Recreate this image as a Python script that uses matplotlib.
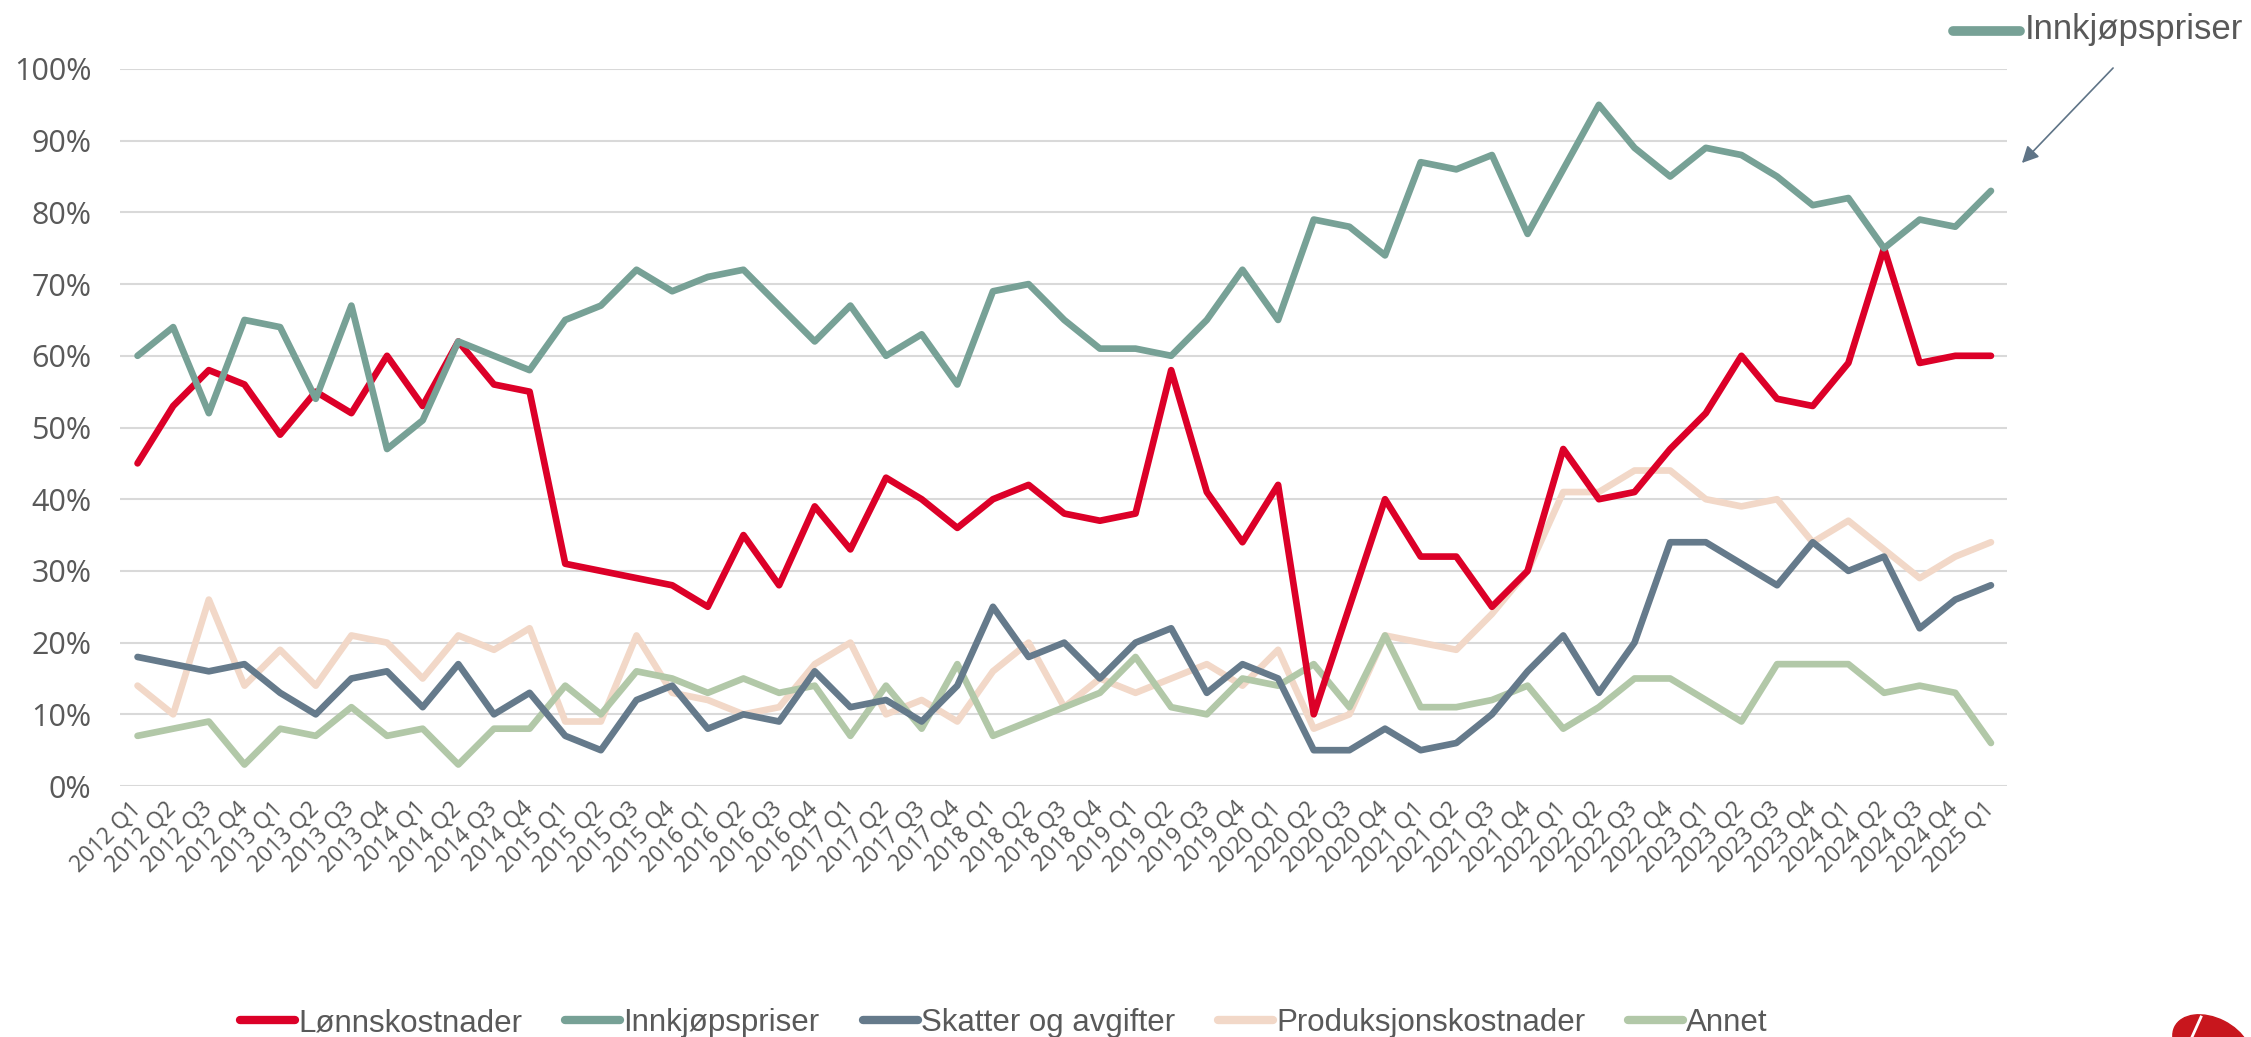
import numpy as np
import matplotlib
matplotlib.use('Agg')
import matplotlib.pyplot as plt
from matplotlib.lines import Line2D
from matplotlib.patches import Ellipse

# kvartaler 2012 Q1 - 2025 Q1
quarters = []
for year in range(2012, 2026):
    for q in range(1, 5):
        quarters.append('%d Q%d' % (year, q))
quarters = quarters[:53]

# andel (%) per serie
lonnskostnader = [45, 53, 58, 56, 49, 55, 52, 60, 53, 62, 56, 55,
                  31, 30, 29, 28, 25, 35, 28, 39, 33, 43, 40, 36,
                  40, 42, 38, 37, 38, 58, 41, 34, 42, 10, 25, 40,
                  32, 32, 25, 30, 47, 40, 41, 47, 52, 60, 54, 53,
                  59, 75, 59, 60, 60]
innkjopspriser = [60, 64, 52, 65, 64, 54, 67, 47, 51, 62, 60, 58,
                  65, 67, 72, 69, 71, 72, 67, 62, 67, 60, 63, 56,
                  69, 70, 65, 61, 61, 60, 65, 72, 65, 79, 78, 74,
                  87, 86, 88, 77, 86, 95, 89, 85, 89, 88, 85, 81,
                  82, 75, 79, 78, 83]
skatter = [18, 17, 16, 17, 13, 10, 15, 16, 11, 17, 10, 13,
           7, 5, 12, 14, 8, 10, 9, 16, 11, 12, 9, 14,
           25, 18, 20, 15, 20, 22, 13, 17, 15, 5, 5, 8,
           5, 6, 10, 16, 21, 13, 20, 34, 34, 31, 28, 34,
           30, 32, 22, 26, 28]
produksjon = [14, 10, 26, 14, 19, 14, 21, 20, 15, 21, 19, 22,
              9, 9, 21, 13, 12, 10, 11, 17, 20, 10, 12, 9,
              16, 20, 11, 15, 13, 15, 17, 14, 19, 8, 10, 21,
              20, 19, 24, 30, 41, 41, 44, 44, 40, 39, 40, 34,
              37, 33, 29, 32, 34]
annet = [7, 8, 9, 3, 8, 7, 11, 7, 8, 3, 8, 8,
         14, 10, 16, 15, 13, 15, 13, 14, 7, 14, 8, 17,
         7, 9, 11, 13, 18, 11, 10, 15, 14, 17, 11, 21,
         11, 11, 12, 14, 8, 11, 15, 15, 12, 9, 17, 17,
         17, 13, 14, 13, 6]

labels = ['Lønnskostnader', 'Innkjøpspriser', 'Skatter og avgifter',
          'Produksjonskostnader', 'Annet']
colors = ['#DC0028', '#77A196', '#657A8B', '#F2D8C8', '#B2C8A8']
series = [lonnskostnader, innkjopspriser, skatter, produksjon, annet]
zorders = [5, 6, 4, 2, 3]

txt_color = '#595959'

fig = plt.figure(figsize=(22.51, 10.37), dpi=100)
ax = fig.add_axes([0.0535, 0.2420, 0.8381, 0.6915])

x = np.arange(len(quarters))
for vals, c, z in zip(series, colors, zorders):
    ax.plot(x, np.array(vals) / 100, color=c, lw=4.8, zorder=z,
            solid_capstyle='round', solid_joinstyle='round')

ax.set_xlim(-0.48, 52.45)
ax.set_ylim(0, 1)
ax.set_yticks(np.arange(0, 1.01, 0.1))
ax.set_yticklabels(['%d%%' % v for v in range(0, 101, 10)],
                   fontsize=22, family='Open Sans', color=txt_color)
ax.set_xticks(x)
ax.set_xticklabels(quarters, rotation=45, ha='right', va='center',
                   rotation_mode='anchor', fontsize=16.5,
                   family='Open Sans', color=txt_color)
ax.tick_params(axis='y', length=0, pad=21)
ax.tick_params(axis='x', length=0, pad=14)
ax.grid(axis='y', color='#D9D9D9', lw=1.5, zorder=0)
ax.set_axisbelow(True)
for s in ax.spines.values():
    s.set_visible(False)

# forklaring nederst
handles = [Line2D([0], [0], color=c, lw=6, solid_capstyle='round') for c in colors]
fig.legend(handles, labels, loc='center', bbox_to_anchor=(0.446, 1 - 1023 / 1037),
           ncol=5, frameon=False, handlelength=1.76, handletextpad=0.1,
           columnspacing=1.38, prop={'family': 'Liberation Sans', 'size': 22.5},
           labelcolor=txt_color)

# etikett oppe til høyre med pil
fig.add_artist(Line2D([1953 / 2251, 2020 / 2251], [1 - 31 / 1037, 1 - 31 / 1037],
                      color=colors[1], lw=7, solid_capstyle='round',
                      transform=fig.transFigure))
fig.text(2025 / 2251, 1 - 30 / 1037, 'Innkjøpspriser', fontsize=25,
         family='Liberation Sans', color=txt_color, ha='left', va='center')
fig.add_artist(matplotlib.patches.FancyArrowPatch(
    (2115 / 2251, 1 - 66 / 1037), (2020 / 2251, 1 - 165 / 1037),
    transform=fig.transFigure, arrowstyle='-|>', mutation_scale=25,
    color='#5F7487', lw=1.2))

# logo (delvis synlig)
fig.add_artist(Ellipse((2212 / 2251, 1 - 1046 / 1037), 72 / 2251, 64 / 1037,
                       angle=15, color='#C8161D', transform=fig.transFigure))
fig.add_artist(Line2D([2192 / 2251, 2201 / 2251], [0, 1 - 1017 / 1037],
                      color='white', lw=2, transform=fig.transFigure))

fig.savefig('out.png', dpi=100)
